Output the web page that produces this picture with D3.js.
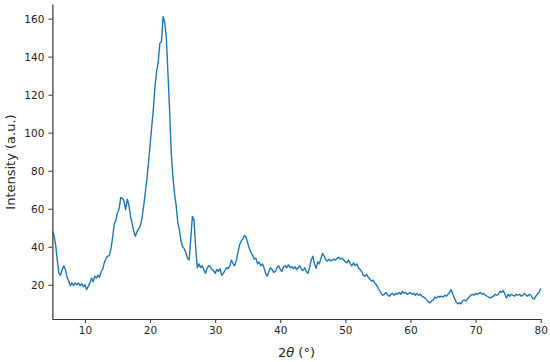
<!DOCTYPE html>
<html><head><meta charset="utf-8">
<script src="https://cdn.jsdelivr.net/npm/d3@7"></script>
<style>body{margin:0;background:#fff}svg{display:block}text{font-family:"DejaVu Sans",sans-serif;fill:#262626}</style>
</head><body><svg id="c" width="550" height="362"></svg>
<script>
const twoTheta = [
5.00,5.25,5.50,5.75,6.00,6.25,6.50,6.75,7.00,7.25,7.50,7.75,8.00,8.25,8.50,8.75,9.00,9.25,9.50,9.75,
10.00,10.25,10.50,10.75,11.00,11.25,11.50,11.75,12.00,12.25,12.50,12.75,13.00,13.25,13.50,13.75,14.00,14.25,14.50,14.75,
15.00,15.25,15.50,15.75,16.00,16.25,16.50,16.75,17.00,17.25,17.50,17.75,18.00,18.25,18.50,18.75,19.00,19.25,19.50,19.75,
20.00,20.25,20.50,20.75,21.00,21.25,21.50,21.75,22.00,22.25,22.50,22.75,23.00,23.25,23.50,23.75,24.00,24.25,24.50,24.75,
25.00,25.25,25.50,25.75,26.00,26.25,26.50,26.75,27.00,27.25,27.50,27.75,28.00,28.25,28.50,28.75,29.00,29.25,29.50,29.75,
30.00,30.25,30.50,30.75,31.00,31.25,31.50,31.75,32.00,32.25,32.50,32.75,33.00,33.25,33.50,33.75,34.00,34.25,34.50,34.75,
35.00,35.25,35.50,35.75,36.00,36.25,36.50,36.75,37.00,37.25,37.50,37.75,38.00,38.25,38.50,38.75,39.00,39.25,39.50,39.75,
40.00,40.25,40.50,40.75,41.00,41.25,41.50,41.75,42.00,42.25,42.50,42.75,43.00,43.25,43.50,43.75,44.00,44.25,44.50,44.75,
45.00,45.25,45.50,45.75,46.00,46.25,46.50,46.75,47.00,47.25,47.50,47.75,48.00,48.25,48.50,48.75,49.00,49.25,49.50,49.75,
50.00,50.25,50.50,50.75,51.00,51.25,51.50,51.75,52.00,52.25,52.50,52.75,53.00,53.25,53.50,53.75,54.00,54.25,54.50,54.75,
55.00,55.25,55.50,55.75,56.00,56.25,56.50,56.75,57.00,57.25,57.50,57.75,58.00,58.25,58.50,58.75,59.00,59.25,59.50,59.75,
60.00,60.25,60.50,60.75,61.00,61.25,61.50,61.75,62.00,62.25,62.50,62.75,63.00,63.25,63.50,63.75,64.00,64.25,64.50,64.75,
65.00,65.25,65.50,65.75,66.00,66.25,66.50,66.75,67.00,67.25,67.50,67.75,68.00,68.25,68.50,68.75,69.00,69.25,69.50,69.75,
70.00,70.25,70.50,70.75,71.00,71.25,71.50,71.75,72.00,72.25,72.50,72.75,73.00,73.25,73.50,73.75,74.00,74.25,74.50,74.75,
75.00,75.25,75.50,75.75,76.00,76.25,76.50,76.75,77.00,77.25,77.50,77.75,78.00,78.25,78.50,78.75,79.00,79.25,79.50,79.75,
80.00];
const intensity = [
48,46,41,33,26,25,28,30,28,24,22,19.5,21,19.5,21,20,21,19.5,20.5,19,
20,17.5,19,21,23.5,21.5,24.5,23.5,25,24,27,28.5,32,34,35,35.5,39,45,52,54,
58,60,66,65.5,64,59.5,65,62,56,52,48,45.5,48,49.5,51,55,61,68,75,84,
93,103,112,124,132,137,147,148,161,158,150,131,112,90,77,68,62,53,49,43,
40,39,37,34,33,44,56,54,40,29,31,29,30,28,26,28.5,30,29.5,28,27.5,
26,28,27,28.5,25,26,27.5,29,28.5,30,33,31,30,33,37,41,43,44,46,45,
42,39,37,35.5,33.5,34,31,32,30,31,29,26,24.5,27,29,28,26.5,27,29,30,
28,27,29.5,30,29,30.5,29,29.5,28.5,29.5,28,29,30,28,27.5,29,27,26,29,33,
35,31,28.5,32,31,34,36.5,35,33,32.5,33.5,32.5,33,33.5,33,34,34.5,33.5,34,33,
32,31.5,33,31,30,31.5,30,31,29,28,27,25,24.5,25.5,24,23,22,22.5,21,20,
18.5,17,15.5,14.5,15,16,14.5,14,15,15.5,14.5,15.5,15,16,15,16.5,15.5,16,15,15.5,
16,15,15.5,14.5,15.5,14.5,15,14,13.5,13,12,11,10.5,11.5,12,13.5,13,14,13.5,14,
13.5,14.5,14,15,16,17.5,15,13,11,10,10.5,10,11.5,12,11.5,12.5,13.5,14.5,15,14.5,
15.5,15,15.5,16,15,15.5,14.5,14,13.5,13,13.5,14,15,14.5,15,16.5,16,17,15,13,
15,14,15,14.5,14,15,14.5,15,14,14.5,15.5,14.5,14,15,14.5,13,12.5,14,15,16,
18];
const xTicks = [10,20,30,40,50,60,70,80];
const yTicks = [20,40,60,80,100,120,140,160];

const svg = d3.select("#c");
const x = d3.scaleLinear().domain([5,80]).range([52.4,540.7]);
const y = d3.scaleLinear().domain([2,167.7]).range([319,4]);
const data = twoTheta.map((t,i)=>[t,intensity[i]]);

svg.append("path").datum(data)
  .attr("fill","none").attr("stroke","#1f77b4").attr("stroke-width",1.4)
  .attr("stroke-linejoin","round")
  .attr("d", d3.line().x(d=>x(d[0])).y(d=>y(d[1])));

const gx = svg.append("g").attr("transform","translate(0,319)")
  .call(d3.axisBottom(x).tickValues(xTicks).tickSize(4).tickPadding(4).tickSizeOuter(0));
const gy = svg.append("g").attr("transform","translate(52.4,0)")
  .call(d3.axisLeft(y).tickValues(yTicks).tickSize(4).tickPadding(4).tickSizeOuter(0));
[gx,gy].forEach(g=>{
  g.select(".domain").attr("stroke","#333").attr("stroke-width",1.2);
  g.selectAll(".tick line").attr("stroke","#333").attr("stroke-width",1);
  g.selectAll(".tick text").attr("font-size",10.5).attr("font-family","DejaVu Sans").attr("fill","#262626");
});

svg.append("text").attr("transform","translate(15,162) rotate(-90)")
  .attr("text-anchor","middle").attr("font-size",13).text("Intensity (a.u.)");
const xl = svg.append("text").attr("x",296.5).attr("y",356.5)
  .attr("text-anchor","middle").attr("font-size",13);
xl.append("tspan").text("2");
xl.append("tspan").attr("font-style","italic").text("θ");
xl.append("tspan").text(" (°)");
</script></body></html>
